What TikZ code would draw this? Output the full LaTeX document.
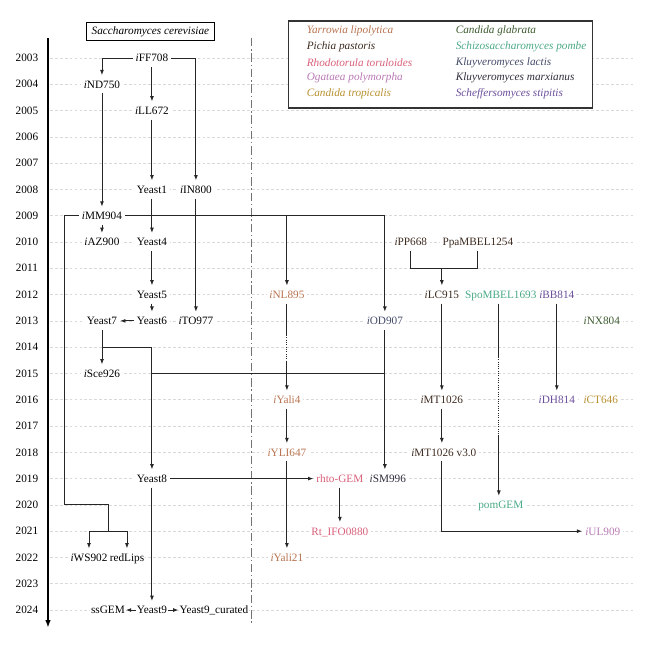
\documentclass[tikz,border=0pt]{standalone}
\usepackage{fontspec}
\setmainfont{Liberation Serif}
\usepackage{tikz}
\usetikzlibrary{arrows.meta,calc}

\definecolor{yali}{HTML}{B87350}
\definecolor{ppas}{HTML}{3E2B20}
\definecolor{rtor}{HTML}{D9607A}
\definecolor{opol}{HTML}{B97AB5}
\definecolor{ctro}{HTML}{B8912F}
\definecolor{cgla}{HTML}{3E5C30}
\definecolor{spom}{HTML}{4BAA85}
\definecolor{klac}{HTML}{434A68}
\definecolor{kmar}{HTML}{2E2E3C}
\definecolor{ssti}{HTML}{6B4E9B}

\newcommand{\iM}[1]{\textit{i}#1}

\tikzset{
  gem/.style={fill=white, inner xsep=2pt, inner ysep=3.5pt, text height=5.5pt, text depth=0pt},
  yearlab/.style={inner sep=1pt},
  link/.style={line width=0.65pt, black!85, -{Latex[length=3.8pt,width=2.8pt]}},
  bare/.style={line width=0.65pt, black!85},
  yeargrid/.style={dash pattern=on 2pt off 1.5pt, black!15, line width=0.4pt},
}

\begin{document}
\begin{tikzpicture}[x=0.025cm, y=-0.65725cm, font=\fontsize{8}{9.6}\selectfont]
\useasboundingbox (0,-2.206) rectangle (650,22.52);

% years
\foreach \k in {0,...,21}{
  \pgfmathtruncatemacro{\yr}{2003+\k}
  \draw[yeargrid] (50,\k) -- (635,\k);
  \node[yearlab] at (27,\k) {\yr};
}
\draw[line width=1.1pt, -{Latex[length=5.5pt,width=3.8pt]}] (48,-0.76) -- (48,21.68);
\draw[black!55, line width=0.6pt, dash pattern=on 6pt off 2pt on 1pt off 2pt] (252,-0.76) -- (252,21.57);

% titles
\node[draw, fill=white, line width=0.7pt, minimum width=91.5pt, minimum height=13.5pt, inner sep=0pt] (sce) at (150.5,-1.008) {\textit{Saccharomyces cerevisiae}};
\draw[line width=0.8pt, draw=black!80, fill=white] (289,-1.407) rectangle (593,1.902);
\node[anchor=west, text=yali] (lyali) at (302,-1.027) {\textit{Yarrowia lipolytica}};
\node[anchor=west, text=ppas] (lppas) at (302,-0.428) {\textit{Pichia pastoris}};
\node[anchor=west, text=rtor] (lrtor) at (302,0.171) {\textit{Rhodotorula toruloides}};
\node[anchor=west, text=opol] (lopol) at (302,0.770) {\textit{Ogataea polymorpha}};
\node[anchor=west, text=ctro] (lctro) at (302,1.369) {\textit{Candida tropicalis}};
\node[anchor=west, text=cgla] (lcgla) at (451,-1.027) {\textit{Candida glabrata}};
\node[anchor=west, text=spom] (lspom) at (451,-0.428) {\textit{Schizosaccharomyces pombe}};
\node[anchor=west, text=klac] (lklac) at (451,0.171) {\textit{Kluyveromyces lactis}};
\node[anchor=west, text=kmar] (lkmar) at (451,0.770) {\textit{Kluyveromyces marxianus}};
\node[anchor=west, text=ssti] (lssti) at (451,1.369) {\textit{Scheffersomyces stipitis}};

% S. cerevisiae models
\node[gem] (iFF708) at (152,0) {\iM{FF708}};
\node[gem] (iND750) at (102,1) {\iM{ND750}};
\node[gem] (iLL672) at (152,2) {\iM{LL672}};
\node[gem] (Yeast1) at (152,5) {Yeast1};
\node[gem] (iIN800) at (196,5) {\iM{IN800}};
\node[gem] (iMM904) at (102,6) {\iM{MM904}};
\node[gem] (iAZ900) at (102,7) {\iM{AZ900}};
\node[gem] (Yeast4) at (152,7) {Yeast4};
\node[gem] (Yeast5) at (152,9) {Yeast5};
\node[gem] (Yeast6) at (152,10) {Yeast6};
\node[gem] (Yeast7) at (102,10) {Yeast7};
\node[gem] (iTO977) at (196,10) {\iM{TO977}};
\node[gem] (iSce926) at (102,12) {\iM{Sce926}};
\node[gem] (Yeast8) at (152,16) {Yeast8};
\node[gem] (iWS902) at (89,19) {\iM{WS902}};
\node[gem, inner xsep=0.5pt] (redLips) at (127,19) {redLips};
\node[gem, inner xsep=0.5pt] (Yeast9) at (152,21) {Yeast9};
\node[gem, inner xsep=0.5pt] (ssGEM) at (108,21) {ssGEM};
\node[gem, inner xsep=0.5pt] (Yeast9c) at (214,21) {Yeast9\_curated};

% other yeasts
\node[gem, text=yali] (iNL895) at (287,9) {\iM{NL895}};
\node[gem, text=yali] (iYali4) at (287,13) {\iM{Yali4}};
\node[gem, text=yali] (iYLI647) at (287,15) {\iM{YLI647}};
\node[gem, text=yali] (iYali21) at (287,19) {\iM{Yali21}};
\node[gem, text=klac] (iOD907) at (385,10) {\iM{OD907}};
\node[gem, text=rtor] (rhto) at (340,16) {rhto-GEM};
\node[gem, text=kmar] (iSM996) at (388,16) {\iM{SM996}};
\node[gem, text=rtor] (Rt) at (340,18) {Rt\_IFO0880};
\node[gem, text=ppas] (iPP668) at (411,7) {\iM{PP668}};
\node[gem, text=ppas] (PpaMBEL1254) at (478,7) {PpaMBEL1254};
\node[gem, text=ppas] (iLC915) at (442,9) {\iM{LC915}};
\node[gem, text=spom] (SpoMBEL1693) at (501,9) {SpoMBEL1693};
\node[gem, text=ssti, inner xsep=0.5pt] (iBB814) at (557,9) {\iM{BB814}};
\node[gem, text=cgla] (iNX804) at (602,10) {\iM{NX804}};
\node[gem, text=ppas] (iMT1026) at (442,13) {\iM{MT1026}};
\node[gem, text=ssti] (iDH814) at (557,13) {\iM{DH814}};
\node[gem, text=ctro] (iCT646) at (601,13) {\iM{CT646}};
\node[gem, text=ppas] (iMT1026v3) at (444,15) {\iM{MT1026} v3.0};
\node[gem, text=spom] (pomGEM) at (501,17) {pomGEM};
\node[gem, text=opol] (iUL909) at (603,18) {\iM{UL909}};

% S. cerevisiae lineage
\draw[link] (iFF708) -- (iLL672);
\draw[link] (iFF708.west) -| (iND750.north);
\draw[link] (iFF708.east) -| (iIN800.north);
\draw[link] (iLL672) -- (Yeast1);
\draw[link] (iND750) -- (iMM904);
\draw[link] (Yeast1) -- (Yeast4);
\draw[link] (iIN800) -- (iTO977);
\draw[link] (iMM904) -- (iAZ900);
\draw[link] (Yeast4) -- (Yeast5);
\draw[link] (Yeast5) -- (Yeast6);
\draw[link] (Yeast6) -- (Yeast7);
\draw[link] (Yeast7) -- (iSce926);
\coordinate (y14) at (152,11);
\coordinate (y15) at (152,12);
\draw[link] (Yeast7.south) |- (y14) -- (Yeast8);
\draw[bare] (y15) -- (y15 -| iOD907.south);
\draw[link] (Yeast8) -- (Yeast9);
\draw[link] (Yeast9) -- (ssGEM);
\draw[link] (Yeast9) -- (Yeast9c);
\draw[link] (Yeast8) -- (rhto);
\coordinate (m20) at (64,17);
\coordinate (m21) at (108,18);
\draw[bare] (iMM904.west) -| (m20) -| (m21);
\draw[link] (m21) -| (iWS902.north);
\draw[link] (m21) -| (redLips.north);
\draw[link] (iMM904.east) -| (iNL895.north);
\draw[link] (iMM904.east) -| (iOD907.north);
\draw[link] (iOD907.south) -- (iOD907.south |- iSM996.north);

% Y. lipolytica and R. toruloides
\coordinate (nlA) at (287,10.54);
\coordinate (nlB) at (287,11.56);
\draw[bare] (iNL895) -- (nlA);
\draw[bare, densely dotted] (nlA) -- (nlB);
\draw[link] (nlB) -- (iYali4);
\draw[link] (iYali4) -- (iYLI647);
\draw[link] (iYLI647) -- (iYali21);
\draw[link] (rhto) -- (Rt);

% P. pastoris
\coordinate (pp) at (442,8);
\draw[bare] (iPP668.south) |- (pp) -| (PpaMBEL1254.south);
\draw[link] (pp) -- (iLC915);
\draw[link] (iLC915) -- (iMT1026);
\draw[link] (iMT1026.south) -- (iMT1026.south |- iMT1026v3.north);
\draw[link] (iMT1026v3.south -| iMT1026) |- (iUL909.west);

% S. pombe and S. stipitis
\coordinate (spA) at (499,11.37);
\coordinate (spB) at (499,14.34);
\draw[bare] (SpoMBEL1693.south -| spA) -- (spA);
\draw[bare, densely dotted] (spA) -- (spB);
\draw[link] (spB) -- (spB |- pomGEM.north);
\draw[link] (iBB814) -- (iDH814);
\end{tikzpicture}
\end{document}
